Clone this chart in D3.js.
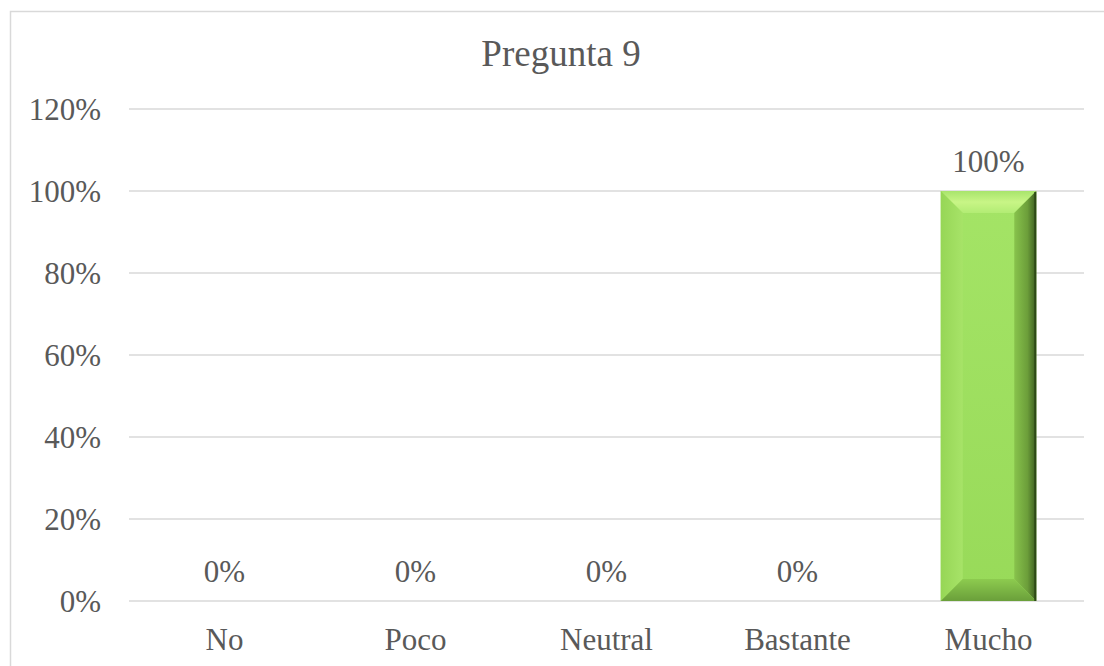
<!DOCTYPE html>
<html>
<head>
<meta charset="utf-8">
<script src="https://cdn.jsdelivr.net/npm/d3@7"></script>
<style>
  body { margin: 0; background: #fff; }
  text { font-family: "Liberation Serif", "Times New Roman", serif; fill: #595959; }
</style>
</head>
<body>
<div id="chart"></div>
<script>
// data
const categories = ["No", "Poco", "Neutral", "Bastante", "Mucho"];
const values = [0, 0, 0, 0, 1];
const yTicks = [0, 0.2, 0.4, 0.6, 0.8, 1.0, 1.2];
const title = "Pregunta 9";

const width = 1104, height = 666;
const plot = { left: 129, right: 1084, top: 109, bottom: 601 };

const svg = d3.select("#chart").append("svg")
  .attr("width", width)
  .attr("height", height);

// chart frame
svg.append("rect")
  .attr("x", 10.5).attr("y", 11.5)
  .attr("width", 1102).attr("height", 680)
  .attr("fill", "#fff")
  .attr("stroke", "#d9d9d9")
  .attr("stroke-width", 1.5);

const x = d3.scaleBand()
  .domain(categories)
  .range([plot.left, plot.right])
  .paddingInner(0.5)
  .paddingOuter(0.25);

const y = d3.scaleLinear()
  .domain([0, 1.2])
  .range([plot.bottom, plot.top]);

const fmt = d3.format(".0%");

// gridlines
svg.append("g")
  .selectAll("line")
  .data(yTicks)
  .enter()
  .append("line")
  .attr("x1", plot.left)
  .attr("x2", plot.right)
  .attr("y1", d => y(d))
  .attr("y2", d => y(d))
  .attr("stroke", "#d9d9d9")
  .attr("stroke-width", 1.5);

// y axis labels
svg.append("g")
  .selectAll("text")
  .data(yTicks)
  .enter()
  .append("text")
  .attr("x", 101)
  .attr("y", d => y(d))
  .attr("dy", "0.35em")
  .attr("text-anchor", "end")
  .style("font-size", "31px")
  .text(d => fmt(d));

// x axis labels
svg.append("g")
  .selectAll("text")
  .data(categories)
  .enter()
  .append("text")
  .attr("x", d => x(d) + x.bandwidth() / 2)
  .attr("y", plot.bottom + 49)
  .attr("text-anchor", "middle")
  .style("font-size", "31px")
  .text(d => d);

// title
svg.append("text")
  .attr("x", 561)
  .attr("y", 66)
  .attr("text-anchor", "middle")
  .style("font-size", "37px")
  .text(title);

// gradients for the bevelled bar
const defs = svg.append("defs");
function grad(id, x2, y2, stops) {
  const g = defs.append("linearGradient").attr("id", id)
    .attr("x1", 0).attr("y1", 0).attr("x2", x2).attr("y2", y2);
  stops.forEach(s => g.append("stop").attr("offset", s[0]).attr("stop-color", s[1]));
}
grad("gFace", 0, 1, [[0, "#a4e466"], [1, "#98da59"]]);
grad("gTop", 0, 1, [[0, "#a8e46c"], [0.5, "#c8f586"], [1, "#b2ec74"]]);
grad("gLeft", 1, 0, [[0, "#96d656"], [1, "#a7e368"]]);
grad("gRight", 1, 0, [[0, "#88c34c"], [0.6, "#6c9e3a"], [1, "#3c5c20"]]);
grad("gBottom", 0, 1, [[0, "#8dcb4f"], [1, "#6a9f3a"]]);

const bev = 22;
const bars = svg.append("g")
  .selectAll("g")
  .data(values.map((v, i) => ({ cat: categories[i], v: v })).filter(d => d.v > 0))
  .enter()
  .append("g");

function pts(arr) { return arr.map(p => p.join(",")).join(" "); }

bars.each(function (d) {
  const g = d3.select(this);
  const x0 = x(d.cat), x1 = x(d.cat) + x.bandwidth();
  const y0 = y(d.v), y1 = y(0);
  const b = Math.min(bev, (x1 - x0) / 2, (y1 - y0) / 2);
  g.append("rect").attr("x", x0).attr("y", y0)
    .attr("width", x1 - x0).attr("height", y1 - y0)
    .attr("fill", "url(#gFace)");
  g.append("polygon").attr("points", pts([[x0, y0], [x1, y0], [x1 - b, y0 + b], [x0 + b, y0 + b]]))
    .attr("fill", "url(#gTop)");
  g.append("polygon").attr("points", pts([[x0, y0], [x0 + b, y0 + b], [x0 + b, y1 - b], [x0, y1]]))
    .attr("fill", "url(#gLeft)");
  g.append("polygon").attr("points", pts([[x1, y0], [x1, y1], [x1 - b, y1 - b], [x1 - b, y0 + b]]))
    .attr("fill", "url(#gRight)");
  g.append("polygon").attr("points", pts([[x0, y1], [x0 + b, y1 - b], [x1 - b, y1 - b], [x1, y1]]))
    .attr("fill", "url(#gBottom)");
  g.append("line").attr("x1", x1 - 1).attr("x2", x1 - 1).attr("y1", y0 + 1).attr("y2", y1)
    .attr("stroke", "#2e4a16").attr("stroke-width", 2);
});

// data labels
svg.append("g")
  .selectAll("text")
  .data(values)
  .enter()
  .append("text")
  .attr("x", (d, i) => x(categories[i]) + x.bandwidth() / 2)
  .attr("y", d => y(d) - 19)
  .attr("text-anchor", "middle")
  .style("font-size", "31px")
  .text(d => fmt(d));
</script>
</body>
</html>
